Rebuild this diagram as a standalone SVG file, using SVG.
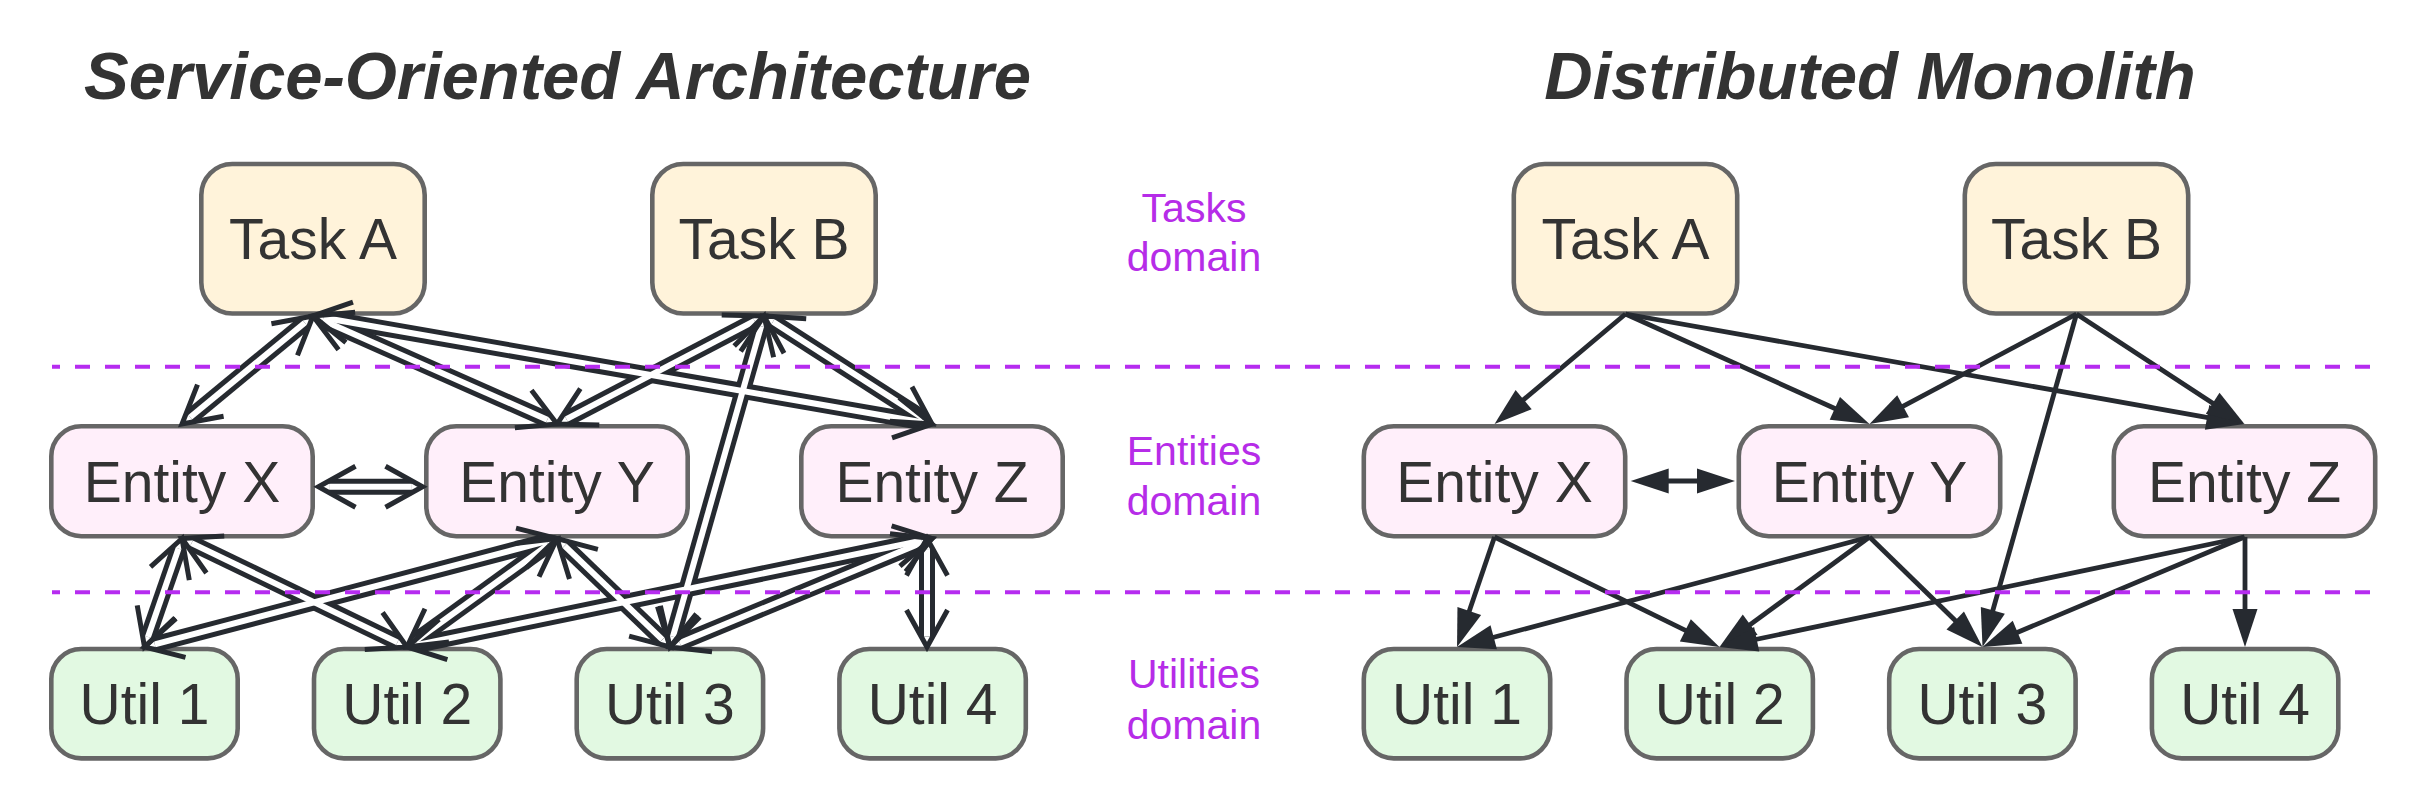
<svg xmlns="http://www.w3.org/2000/svg" xmlns:xlink="http://www.w3.org/1999/xlink" width="2423" height="808" viewBox="0 0 2423 808">
<style>
text{font-family:"Liberation Sans",Arial,sans-serif}
.title{font-size:67px;font-weight:bold;font-style:italic;fill:#333333;text-anchor:middle}
.lbl{font-size:57px;fill:#333333;text-anchor:middle}
.dom{font-size:41px;fill:#B62CE8;text-anchor:middle}
.node rect{stroke:#666666;stroke-width:4.6}
.task rect{fill:#FFF3DA}
.entity rect{fill:#FFEFFA}
.util rect{fill:#E2F9E2}
.sep{stroke:#B62CF0;stroke-width:4;stroke-dasharray:15 15;stroke-dashoffset:7;fill:none}
.dbl-outer{fill:none;stroke:#262A30;stroke-width:16}
.dbl-inner{fill:none;stroke:#FFFFFF;stroke-width:6}
.dbl-heads{fill:none;stroke:none;marker-start:url(#chev);marker-end:url(#chev)}
.single path{fill:none;stroke:#262A30;stroke-width:4.8;marker-end:url(#tri)}
</style>
<defs>
<marker id="chev" markerUnits="userSpaceOnUse" orient="auto-start-reverse" refX="0" refY="0" markerWidth="80" markerHeight="80" overflow="visible">
<path d="M-26.4,-20.5 L10.6,0 L-26.4,20.5" fill="none" stroke="#262A30" stroke-width="5"/>
</marker>
<marker id="tri" markerUnits="userSpaceOnUse" orient="auto-start-reverse" refX="0" refY="0" markerWidth="80" markerHeight="80" overflow="visible">
<path d="M-28,-12.5 L10,0 L-28,12.5 Z" fill="#262A30"/>
</marker>
<path id="l1" d="M304.82,322.74 L190.18,417.26"/>
<path id="l2" d="M322.69,320.29 L547.31,419.71"/>
<path id="l3" d="M323.44,317.82 L921.56,422.18"/>
<path id="l4" d="M754.6,320.9 L566.4,419.1"/>
<path id="l5" d="M772.92,321.73 L923.08,418.27"/>
<path id="l6" d="M761.1,326.2 L672.9,636.8"/>
<path id="l7" d="M329.1,486.8 L411.9,486.8"/>
<path id="l8" d="M178.54,548.52 L147.96,636.98"/>
<path id="l9" d="M191.55,543.1 L397.45,642.4"/>
<path id="l10" d="M546.75,541.2 L154.75,644.3"/>
<path id="l11" d="M548.41,544.71 L415.59,640.79"/>
<path id="l12" d="M564.65,545.84 L662.35,639.66"/>
<path id="l13" d="M921.62,540.65 L417.38,644.85"/>
<path id="l14" d="M922.21,542.56 L679.79,642.94"/>
<path id="l15" d="M927,549.1 L927,636.4"/>
</defs>

<rect width="2423" height="808" fill="#FFFFFF"/>

<text class="title" x="557.5" y="99">Service-Oriented Architecture</text>
<text class="title" x="1870" y="99">Distributed Monolith</text>

<g id="soa-nodes">
<g id="soa-task-a" class="node task"><rect x="201.3" y="164" width="223.4" height="149.5" rx="31"/><text class="lbl" x="313" y="259">Task A</text></g>
<g id="soa-task-b" class="node task"><rect x="652.3" y="164" width="223.4" height="149.5" rx="31"/><text class="lbl" x="764" y="259">Task B</text></g>
<g id="soa-entity-x" class="node entity"><rect x="51.3" y="426.3" width="261.4" height="109.9" rx="30"/><text class="lbl" x="182" y="501.7">Entity X</text></g>
<g id="soa-entity-y" class="node entity"><rect x="426.3" y="426.3" width="261.4" height="109.9" rx="30"/><text class="lbl" x="557" y="501.7">Entity Y</text></g>
<g id="soa-entity-z" class="node entity"><rect x="801.3" y="426.3" width="261.4" height="109.9" rx="30"/><text class="lbl" x="932" y="501.7">Entity Z</text></g>
<g id="soa-util-1" class="node util"><rect x="51.3" y="649" width="186.4" height="109.4" rx="30"/><text class="lbl" x="144.5" y="724">Util 1</text></g>
<g id="soa-util-2" class="node util"><rect x="314" y="649" width="186.4" height="109.4" rx="30"/><text class="lbl" x="407.2" y="724">Util 2</text></g>
<g id="soa-util-3" class="node util"><rect x="576.7" y="649" width="186.4" height="109.4" rx="30"/><text class="lbl" x="669.9" y="724">Util 3</text></g>
<g id="soa-util-4" class="node util"><rect x="839.4" y="649" width="186.4" height="109.4" rx="30"/><text class="lbl" x="932.6" y="724">Util 4</text></g>
</g>

<g id="dm-nodes">
<g id="dm-task-a" class="node task"><rect x="1513.8" y="164" width="223.4" height="149.5" rx="31"/><text class="lbl" x="1625.5" y="259">Task A</text></g>
<g id="dm-task-b" class="node task"><rect x="1964.8" y="164" width="223.4" height="149.5" rx="31"/><text class="lbl" x="2076.5" y="259">Task B</text></g>
<g id="dm-entity-x" class="node entity"><rect x="1363.8" y="426.3" width="261.4" height="109.9" rx="30"/><text class="lbl" x="1494.5" y="501.7">Entity X</text></g>
<g id="dm-entity-y" class="node entity"><rect x="1738.8" y="426.3" width="261.4" height="109.9" rx="30"/><text class="lbl" x="1869.5" y="501.7">Entity Y</text></g>
<g id="dm-entity-z" class="node entity"><rect x="2113.8" y="426.3" width="261.4" height="109.9" rx="30"/><text class="lbl" x="2244.5" y="501.7">Entity Z</text></g>
<g id="dm-util-1" class="node util"><rect x="1363.8" y="649" width="186.4" height="109.4" rx="30"/><text class="lbl" x="1457" y="724">Util 1</text></g>
<g id="dm-util-2" class="node util"><rect x="1626.5" y="649" width="186.4" height="109.4" rx="30"/><text class="lbl" x="1719.7" y="724">Util 2</text></g>
<g id="dm-util-3" class="node util"><rect x="1889.2" y="649" width="186.4" height="109.4" rx="30"/><text class="lbl" x="1982.4" y="724">Util 3</text></g>
<g id="dm-util-4" class="node util"><rect x="2151.9" y="649" width="186.4" height="109.4" rx="30"/><text class="lbl" x="2245.1" y="724">Util 4</text></g>
</g>

<g id="connectors">
<g class="dbl-outer">
<use xlink:href="#l1"/><use xlink:href="#l2"/><use xlink:href="#l3"/><use xlink:href="#l4"/><use xlink:href="#l5"/>
<use xlink:href="#l6"/><use xlink:href="#l7"/><use xlink:href="#l8"/><use xlink:href="#l9"/><use xlink:href="#l10"/>
<use xlink:href="#l11"/><use xlink:href="#l12"/><use xlink:href="#l13"/><use xlink:href="#l14"/><use xlink:href="#l15"/>
</g>
<g class="dbl-inner">
<use xlink:href="#l1"/><use xlink:href="#l2"/><use xlink:href="#l3"/><use xlink:href="#l4"/><use xlink:href="#l5"/>
<use xlink:href="#l6"/><use xlink:href="#l7"/><use xlink:href="#l8"/><use xlink:href="#l9"/><use xlink:href="#l10"/>
<use xlink:href="#l11"/><use xlink:href="#l12"/><use xlink:href="#l13"/><use xlink:href="#l14"/><use xlink:href="#l15"/>
</g>
<g class="dbl-heads">
<use xlink:href="#l1"/><use xlink:href="#l2"/><use xlink:href="#l3"/><use xlink:href="#l4"/><use xlink:href="#l5"/>
<use xlink:href="#l6"/><use xlink:href="#l7"/><use xlink:href="#l8"/><use xlink:href="#l9"/><use xlink:href="#l10"/>
<use xlink:href="#l11"/><use xlink:href="#l12"/><use xlink:href="#l13"/><use xlink:href="#l14"/><use xlink:href="#l15"/>
</g>
<g class="single">
<path d="M1625.5,314 L1502.22,417.64"/>
<path d="M1625.5,314 L1860.36,419.95"/>
<path d="M1625.5,314 L2234.65,422.28"/>
<path d="M2076.5,314 L1878.37,419.37"/>
<path d="M2076.5,314 L2236.09,418.59"/>
<path d="M2076.5,314 L1985.23,637.38"/>
<path d="M1640.7,481 L1725,481" style="marker-start:url(#tri)"/>
<path d="M1494.5,537 L1460.27,637.55"/>
<path d="M1494.5,537 L1710.49,642.66"/>
<path d="M1869.5,537 L1466.67,644.46"/>
<path d="M1869.5,537 L1727.6,641.14"/>
<path d="M1869.5,537 L1975.29,640.07"/>
<path d="M2244.5,537 L1729.29,644.98"/>
<path d="M2244.5,537 L1991.74,643.17"/>
<path d="M2245,537 L2245,637"/>
</g>
</g>

<g id="separators">
<line class="sep" x1="52" y1="366.7" x2="2372" y2="366.7"/>
<line class="sep" x1="52" y1="592.3" x2="2372" y2="592.3"/>
</g>

<g id="domain-labels">
<text class="dom" x="1194" y="222"><tspan x="1194" y="222">Tasks</tspan><tspan x="1194" y="271">domain</tspan></text>
<text class="dom" x="1194" y="465"><tspan x="1194" y="465">Entities</tspan><tspan x="1194" y="515">domain</tspan></text>
<text class="dom" x="1194" y="688"><tspan x="1194" y="688">Utilities</tspan><tspan x="1194" y="739">domain</tspan></text>
</g>
</svg>
